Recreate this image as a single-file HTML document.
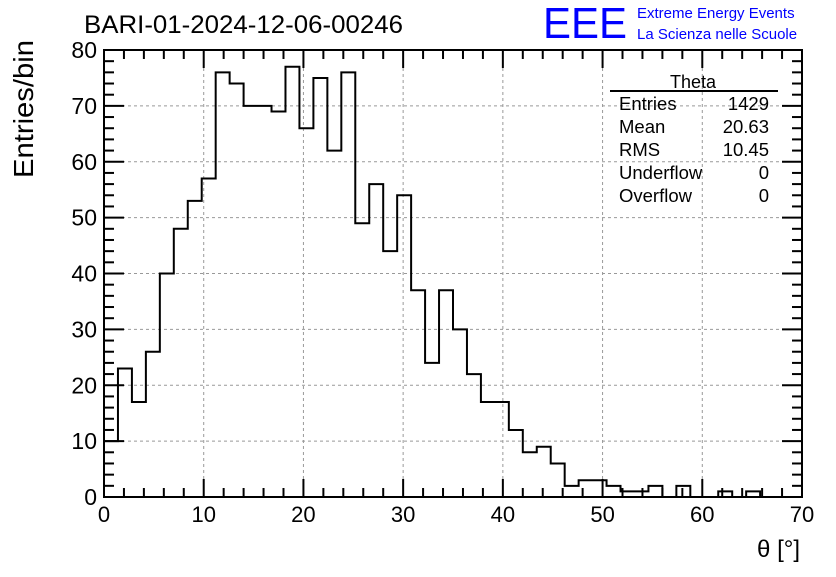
<!DOCTYPE html>
<html><head><meta charset="utf-8"><style>
body{margin:0;background:#fff;}
svg text{font-family:"Liberation Sans",sans-serif;}
</style></head><body>
<svg id="c" width="836" height="572" xmlns="http://www.w3.org/2000/svg">
<rect width="836" height="572" fill="#fff"/>
<text x="84" y="33" font-size="25" textLength="319" lengthAdjust="spacingAndGlyphs">BARI-01-2024-12-06-00246</text>
<text x="543" y="38" font-size="44" fill="#0000ff" textLength="84" lengthAdjust="spacingAndGlyphs">EEE</text>
<text x="637" y="18" font-size="15" fill="#0000ff">Extreme Energy Events</text>
<text x="637" y="39" font-size="15" fill="#0000ff">La Scienza nelle Scuole</text>
<text transform="translate(33,178) rotate(-90)" font-size="28" textLength="138" lengthAdjust="spacingAndGlyphs">Entries/bin</text>
<text x="800" y="557" font-size="24" text-anchor="end">θ [°]</text>
<g id="grid"></g><g id="ticks"></g><g id="hist"></g>
<rect x="104" y="50" width="698" height="447" fill="none" stroke="#000" stroke-width="2"/>
<g font-size="18.5">
<text x="693" y="88" text-anchor="middle" font-size="18">Theta</text>
<line x1="610" y1="91" x2="778" y2="91" stroke="#000" stroke-width="2"/>
<text x="619" y="110">Entries</text><text x="769" y="110" text-anchor="end">1429</text>
<text x="619" y="133">Mean</text><text x="769" y="133" text-anchor="end">20.63</text>
<text x="619" y="156">RMS</text><text x="769" y="156" text-anchor="end">10.45</text>
<text x="619" y="179">Underflow</text><text x="769" y="179" text-anchor="end">0</text>
<text x="619" y="202">Overflow</text><text x="769" y="202" text-anchor="end">0</text>
</g>
</svg>
<script>
const counts=[10,23,17,26,40,48,53,57,76,74,70,70,69,77,66,75,62,76,49,56,44,54,37,24,37,30,22,17,17,12,8,9,6,2,3,3,2,1,1,2,0,2,0,0,1,0,1,0,0,0];
const binWidth=1.4;
const xTicks=[0,10,20,30,40,50,60,70];
const yTicks=[0,10,20,30,40,50,60,70,80];
const NS="http://www.w3.org/2000/svg";
const X0=104,X1=802,Y0=497,Y1=50;
const xs=v=>X0+(v/70)*(X1-X0);
const ys=v=>Y0-(v/80)*(Y0-Y1);
function mk(tag,attrs,parent){const e=document.createElementNS(NS,tag);for(const k in attrs)e.setAttribute(k,attrs[k]);parent.appendChild(e);return e;}
const grid=document.getElementById('grid'),ticks=document.getElementById('ticks'),hist=document.getElementById('hist');
xTicks.forEach(t=>{
 if(t>0&&t<70){const l=mk('line',{x1:xs(t),x2:xs(t),y1:Y0,y2:Y1,stroke:'#999','stroke-dasharray':'3,3'},grid);
 
 }
 const tx=mk('text',{x:xs(t),y:522,'font-size':22,'text-anchor':'middle'},ticks);tx.textContent=t;
 
 
});
for(let v=0;v<=70;v+=2){const big=v%10===0;
 mk('line',{x1:xs(v),x2:xs(v),y1:Y0,y2:Y0-(big?18:9),stroke:'#000','stroke-width':2},ticks);
 mk('line',{x1:xs(v),x2:xs(v),y1:Y1,y2:Y1+(big?18:9),stroke:'#000','stroke-width':2},ticks);}
yTicks.forEach(t=>{
 if(t>0&&t<80){const l=mk('line',{x1:X0,x2:X1,y1:ys(t),y2:ys(t),stroke:'#999','stroke-dasharray':'3,3'},grid);
 
 }
 const tx=mk('text',{x:97,y:ys(t)+8,'font-size':23,'text-anchor':'end'},ticks);tx.textContent=t;
 
 
});
for(let v=0;v<=80;v+=2){const big=v%10===0;
 mk('line',{x1:X0,x2:X0+(big?20:10),y1:ys(v),y2:ys(v),stroke:'#000','stroke-width':2},ticks);
 mk('line',{x1:X1,x2:X1-(big?20:10),y1:ys(v),y2:ys(v),stroke:'#000','stroke-width':2},ticks);}
let d='M'+xs(0)+' '+ys(0);
counts.forEach((c,i)=>{d+=' L'+xs(i*binWidth)+' '+ys(c)+' L'+xs((i+1)*binWidth)+' '+ys(c);});
const p=mk('path',{d:d,fill:'none',stroke:'#000','stroke-width':2},hist);


</script>
</body></html>
